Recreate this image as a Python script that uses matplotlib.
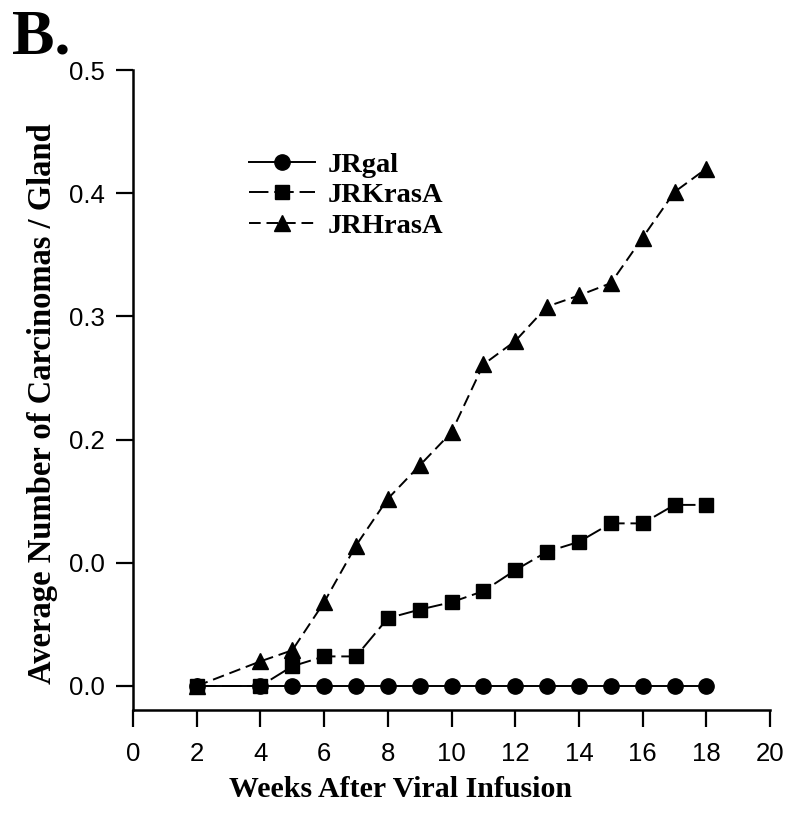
import matplotlib
matplotlib.use("Agg")
import matplotlib.pyplot as plt

weeks = [2, 4, 5, 6, 7, 8, 9, 10, 11, 12, 13, 14, 15, 16, 17, 18]
jrgal = [0, 0, 0, 0, 0, 0, 0, 0, 0, 0, 0, 0, 0, 0, 0, 0]
jrkrasa = [0, 0, 0.016, 0.024, 0.024, 0.055, 0.062, 0.068, 0.077, 0.094, 0.109, 0.117, 0.132, 0.132, 0.147, 0.147]
jrhrasa = [0, 0.020, 0.029, 0.068, 0.114, 0.152, 0.179, 0.206, 0.261, 0.280, 0.308, 0.317, 0.327, 0.364, 0.401, 0.420]

xticks = [0, 2, 4, 6, 8, 10, 12, 14, 16, 18, 20]
yticks = [0.0, 0.1, 0.2, 0.3, 0.4, 0.5]
ytick_labels = ["0.0", "0.0", "0.2", "0.3", "0.4", "0.5"]

tick_font = ["Liberation Sans Narrow", "Liberation Sans"]

fig = plt.figure(figsize=(7.89, 8.23), dpi=100)
ax = fig.add_axes([0.1686, 0.1373, 0.8074, 0.7776])

ms = 11
ax.plot(weeks, jrgal, color="black", lw=1.4, marker="o", ms=ms, label="JRgal", zorder=3)
ax.plot(weeks, jrkrasa, color="black", lw=1.4, marker="s", ms=ms - 1, dashes=(10, 3), label="JRKrasA", zorder=4)
ax.plot(weeks, jrhrasa, color="black", lw=1.4, marker="^", ms=ms + 1, dashes=(6, 3), label="JRHrasA", zorder=5)

ax.set_xlim(0, 20)
ax.set_ylim(-0.0195, 0.5)
ax.set_xticks(xticks)
ax.set_xticklabels([str(t) for t in xticks])
ax.set_yticks(yticks)
ax.set_yticklabels(ytick_labels)

for s in ["top", "right"]:
    ax.spines[s].set_visible(False)
for s in ["left", "bottom"]:
    ax.spines[s].set_linewidth(1.8)

ax.tick_params(axis="both", direction="out", length=12, width=1.6, labelsize=18.5)
ax.tick_params(axis="x", pad=11)
ax.tick_params(axis="y", pad=8)
for lab in ax.get_xticklabels() + ax.get_yticklabels():
    lab.set_family(tick_font)

ax.set_xlabel("Weeks After Viral Infusion", fontfamily="Liberation Serif", fontweight="bold", fontsize=21.5)
ax.set_ylabel("Average Number of Carcinomas / Gland", fontfamily="Liberation Serif", fontweight="bold", fontsize=23.5)
ax.xaxis.set_label_coords(0.42, -0.103)
ax.yaxis.set_label_coords(-0.118, 0.478)

leg = ax.legend(loc="upper left", bbox_to_anchor=(0.142, 0.912), frameon=False,
                prop={"family": "Liberation Serif", "weight": "bold", "size": 20.5},
                handlelength=2.3, handletextpad=0.45, labelspacing=0.16)

fig.text(12 / 789, 1 - 9 / 823, "B.", fontfamily="Liberation Serif", fontweight="bold", fontsize=46, va="top", ha="left")

fig.savefig("out.png", dpi=100)
